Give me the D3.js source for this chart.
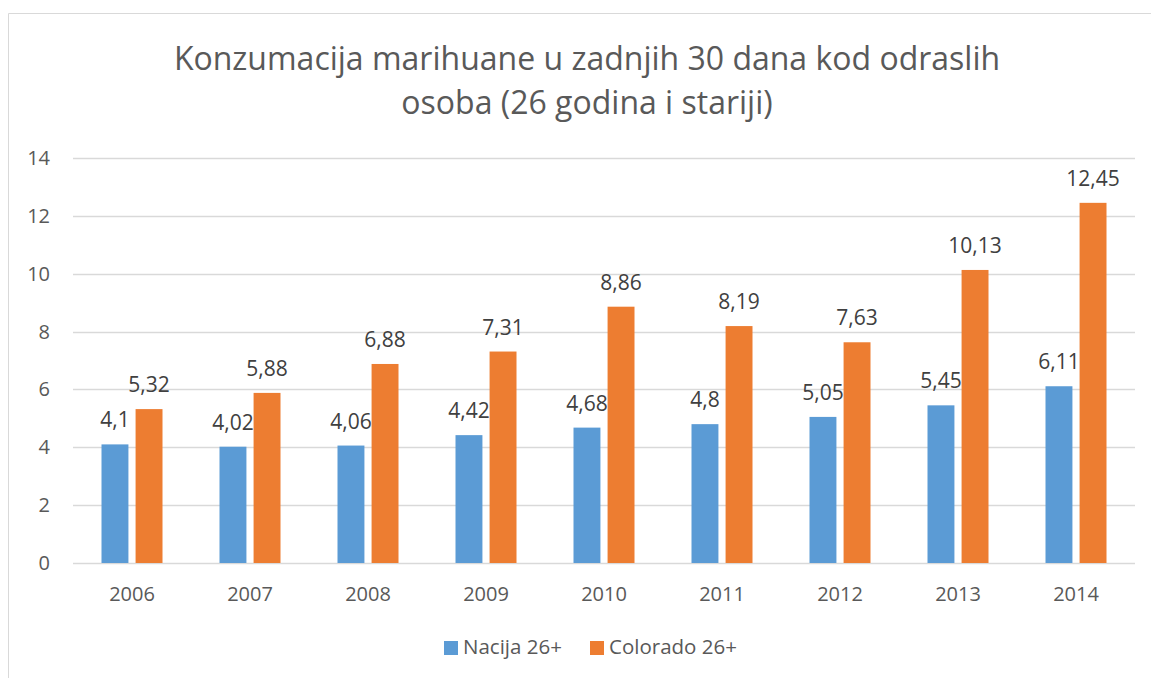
<!DOCTYPE html>
<html>
<head>
<meta charset="utf-8">
<script src="https://cdn.jsdelivr.net/npm/d3@7"></script>
<style>
  body { margin: 0; background: #fff; }
  svg { display: block; font-family: "Open Sans", "Noto Sans", sans-serif; }
</style>
</head>
<body>
<svg id="chart" width="1151" height="678"></svg>
<script>
const titleLines = ["Konzumacija marihuane u zadnjih 30 dana kod odraslih", "osoba (26 godina i stariji)"];
const years = ["2006", "2007", "2008", "2009", "2010", "2011", "2012", "2013", "2014"];
const nacija = [4.1, 4.02, 4.06, 4.42, 4.68, 4.8, 5.05, 5.45, 6.11];
const colorado = [5.32, 5.88, 6.88, 7.31, 8.86, 8.19, 7.63, 10.13, 12.45];
const seriesNames = ["Nacija 26+", "Colorado 26+"];
const seriesColors = ["#5b9bd5", "#ed7d31"];
const yTicks = [0, 2, 4, 6, 8, 10, 12, 14];

const textColor = "#595959";
const svg = d3.select("#chart");
const width = 1151;
const plot = { left: 73, right: 1135, top: 158, bottom: 563 };

// chart frame (only left and top edges visible in the crop)
svg.append("line").attr("x1", 8.5).attr("y1", 13.5).attr("x2", width).attr("y2", 13.5).attr("stroke", "#d9d9d9");
svg.append("line").attr("x1", 8.5).attr("y1", 13.5).attr("x2", 8.5).attr("y2", 678).attr("stroke", "#d9d9d9");

// title
svg.append("g").selectAll("text").data(titleLines).enter().append("text")
  .attr("x", 587).attr("y", (d, i) => 70 + i * 44)
  .attr("text-anchor", "middle").attr("font-size", 32).attr("fill", textColor)
  .text((d) => d);

const x = d3.scaleBand().domain(years).range([plot.left, plot.right]);
const inner = d3.scaleBand().domain([0, 1]).range([-30.5, 30.5]).paddingInner(0.21);
const y = d3.scaleLinear().domain([0, 14]).range([plot.bottom, plot.top]);

// gridlines + y labels
const yAxis = svg.append("g");
yAxis.selectAll("line").data(yTicks).enter().append("line")
  .attr("x1", plot.left).attr("x2", plot.right)
  .attr("y1", (d) => Math.round(y(d)) + 0.5).attr("y2", (d) => Math.round(y(d)) + 0.5)
  .attr("stroke", "#d9d9d9").attr("stroke-width", 1.3);
yAxis.selectAll("text").data(yTicks).enter().append("text")
  .attr("x", 50).attr("y", (d) => y(d) + 7)
  .attr("text-anchor", "end").attr("font-size", 20).attr("fill", textColor)
  .text((d) => d);

// x labels
svg.append("g").selectAll("text").data(years).enter().append("text")
  .attr("x", (d) => x(d) + x.bandwidth() / 2).attr("y", 601)
  .attr("text-anchor", "middle").attr("font-size", 20).attr("fill", textColor)
  .text((d) => d);

const fmt = (v) => String(v).replace(".", ",");
[nacija, colorado].forEach((values, s) => {
  const g = svg.append("g");
  const cx = (i) => x(years[i]) + x.bandwidth() / 2 + inner(s);
  g.selectAll("rect").data(values).enter().append("rect")
    .attr("x", (d, i) => cx(i))
    .attr("y", (d) => y(d))
    .attr("width", inner.bandwidth())
    .attr("height", (d) => y(0) - y(d))
    .attr("fill", seriesColors[s]);
  g.selectAll("text").data(values).enter().append("text")
    .attr("x", (d, i) => cx(i) + inner.bandwidth() / 2)
    .attr("y", (d) => y(d) - 17)
    .attr("text-anchor", "middle").attr("font-size", 21).attr("fill", "#404040")
    .text(fmt);
});

// legend
const legendX = [444, 590];
const legend = svg.append("g");
seriesNames.forEach((name, i) => {
  legend.append("rect").attr("x", legendX[i]).attr("y", 641).attr("width", 14).attr("height", 14).attr("fill", seriesColors[i]);
  legend.append("text").attr("x", legendX[i] + 19).attr("y", 654)
    .attr("font-size", 20.5).attr("fill", textColor).text(name);
});
</script>
</body>
</html>
